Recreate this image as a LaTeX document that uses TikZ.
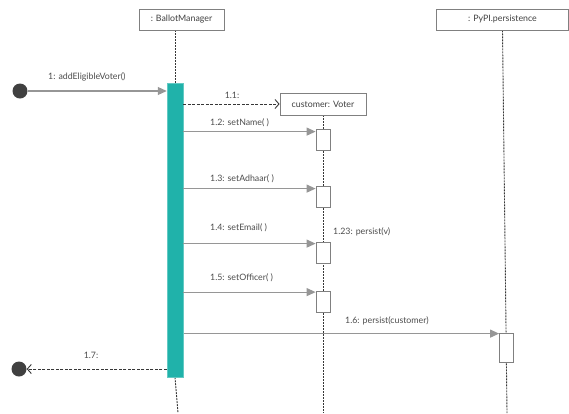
\documentclass[tikz,border=0pt]{standalone}
\usepackage{fontspec}
\setmainfont{Lato}
\usetikzlibrary{calc, shapes, arrows.meta, backgrounds}

\definecolor{barteal}{RGB}{32,178,170}
\definecolor{msggray}{RGB}{150,150,150}
\definecolor{linegray}{RGB}{55,55,55}
\definecolor{dotgray}{RGB}{64,64,64}

\begin{document}
\begin{tikzpicture}[x=1pt,y=-1pt]
\tikzstyle{head}=[draw=black!50,line width=0.8pt,fill=white,minimum height=21pt,inner sep=2pt,font=\fontsize{8.8}{10}\selectfont,text=black!75]
\tikzstyle{life}=[linegray,line width=0.9pt,dash pattern=on 2pt off 1pt]
\tikzstyle{act}=[draw=black!50,line width=0.8pt,fill=white,minimum width=14pt,minimum height=21pt,inner sep=0pt]
\tikzstyle{dot}=[circle,fill=dotgray,minimum size=15pt,inner sep=0pt]
\tikzstyle{call}=[msggray,line width=1.1pt,-{Triangle[length=9pt,width=8pt]}]
\tikzstyle{reply}=[linegray,line width=0.9pt,dash pattern=on 3pt off 1.5pt,-{Straight Barb[length=4pt,width=9pt]}]
\tikzstyle{lbl}=[text=black!70,font=\fontsize{8.8}{10}\selectfont,inner sep=0pt]
\useasboundingbox (0,0) rectangle (569,413);
% lifeline heads
\node[head,minimum width=85pt] (BM) at (181.5,19.5) {: BallotManager};
\node[head,minimum width=86pt,minimum height=22pt] (CV) at (323,104) {customer: Voter};
\node[head,minimum width=132pt] (PP) at (502.5,19.5) {: PyPI.persistence};
% activations
\node[draw=barteal!70!white,line width=0.5pt,fill=barteal,minimum width=16pt,minimum height=294pt,inner sep=0pt] (A) at (175,230) {};
\foreach \i/\y in {2/139.5,3/196.5,4/252.5,5/302}
  \node[act] (X\i) at (323,\y) {};
\node[act,minimum height=29pt] (PA) at (506.5,347.5) {};
% found / lost message ends
\node[dot] (S) at (20,91) {};
\node[dot] (E) at (19,369) {};
\coordinate (BMend) at (178,413);
\coordinate (CVend) at (323,413);
\coordinate (PPend) at (507,413);
\begin{pgfonlayer}{background}
\draw[life] (A.north |- BM.south) -- (A.north);
\draw[life] (A.south) -- (BMend);
\draw[life] (CV.south) -- (CVend);
\draw[life] (PP.south) -- (PPend);
\end{pgfonlayer}
% messages
\draw[call] (S) -- (S -| A.west);
\node[lbl,anchor=west] (L1) at (48,77) {1: addEligibleVoter()};
\draw[reply] (A.east |- CV.west) -- (CV.west);
\node[lbl] (L11) at (232,95) {1.1:};
\foreach \i/\dy/\ly/\txt in {2/3/123/setName( ),3/3/179/setAdhaar( ),4/2/228/setEmail( ),5/1/278/setOfficer( )} {
  \coordinate (m\i) at ($(X\i.north west)+(0,\dy)$);
  \draw[call] (A.east |- m\i) -- (m\i);
  \node[lbl,anchor=west] (L\i) at (210,\ly) {1.\i: \txt};
}
\node[lbl,anchor=west] (L123) at (333,232) {1.23: persist(v)};
\coordinate (m6) at ($(PA.north west)+(0,1)$);
\draw[call] ($(A.east |- m6)+(1,0)$) -- (m6);
\node[lbl,anchor=west] (L6) at (345,321) {1.6: persist(customer)};
\draw[reply] (A.west |- E) -- (E);
\node[lbl] (L7) at (91,355) {1.7:};
\end{tikzpicture}
\end{document}
